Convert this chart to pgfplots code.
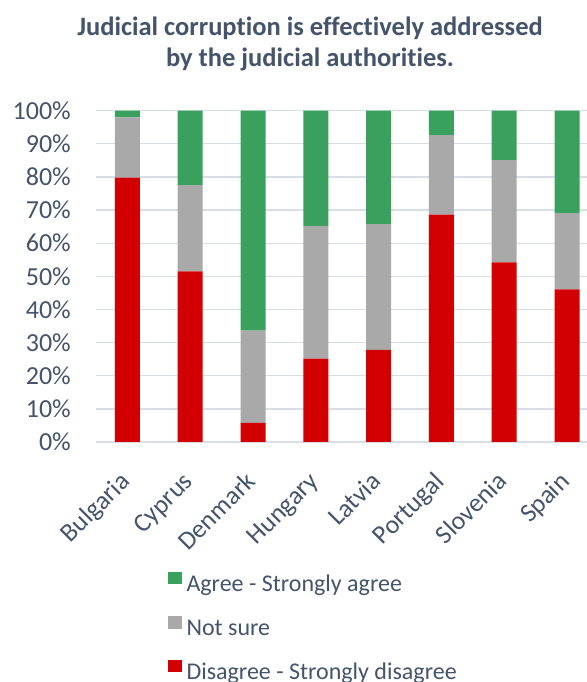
\documentclass[border=0pt]{standalone}
\usepackage{fontspec}
\setmainfont{Carlito}[Ligatures=NoCommon]
\usepackage{pgfplots}
\pgfplotsset{compat=1.18}
\definecolor{txt}{HTML}{44546A}
\definecolor{cgreen}{HTML}{3AA05E}
\definecolor{cgray}{HTML}{A9A9A9}
\definecolor{cred}{HTML}{D20000}
\definecolor{gridc}{HTML}{D9DEE6}
\begin{document}
\begin{tikzpicture}[font=\fontsize{24pt}{29pt}\selectfont, x=1pt, y=1pt]
\useasboundingbox (0,0) rectangle (586,682);
\node[anchor=base, text=txt, font=\fontsize{26.5pt}{31pt}\selectfont\bfseries] at (310,646) {Judicial corruption is effectively addressed};
\node[anchor=base, text=txt, font=\fontsize{26.5pt}{31pt}\selectfont\bfseries] at (310,615) {by the judicial authorities.};
\begin{axis}[
  at={(96pt,240pt)}, anchor=south west,
  scale only axis, width=490.5pt, height=331.3pt,
  ybar stacked, bar width=25pt,
  xmin=-0.5, xmax=7.31, ymin=0, ymax=100,
  xtick={0,...,7},
  xticklabels={Bulgaria,Cyprus,Denmark,Hungary,Latvia,Portugal,Slovenia,Spain},
  ytick={0,10,...,100},
  yticklabels={0\%,10\%,20\%,30\%,40\%,50\%,60\%,70\%,80\%,90\%,100\%},
  major tick length=0pt,
  axis line style={draw=none},
  ymajorgrids, grid style={gridc, line width=1.3pt},
  tick label style={text=txt, font=\fontsize{26pt}{31pt}\selectfont},
  yticklabel style={anchor=east, inner sep=0pt, xshift=-25pt},
  xticklabel style={xshift=4pt, yshift=-41pt, rotate=45, anchor=base east, inner sep=0pt},
  reverse legend,
  legend cell align=left,
  legend style={at={(0.1468,-0.3915)}, anchor=north west, draw=none, fill=none,
    inner sep=0pt, outer sep=0pt, row sep=22.5pt, column sep=5pt,
    font=\fontsize{24pt}{29pt}\selectfont, text=txt,
    nodes={inner sep=0pt}},
  legend image code/.code={\fill[#1] (0pt,0pt) rectangle (13.5pt,12.7pt);},
]
\addplot[fill=cred, draw=none] coordinates {(0,79.8) (1,51.5) (2,5.8) (3,25.2) (4,27.8) (5,68.6) (6,54.2) (7,46.1)};
\addlegendentry{Disagree - Strongly disagree}
\addplot[fill=cgray, draw=none] coordinates {(0,18.2) (1,26.0) (2,27.8) (3,40.0) (4,38.0) (5,24.0) (6,30.9) (7,23.0)};
\addlegendentry{Not sure}
\addplot[fill=cgreen, draw=none] coordinates {(0,2.0) (1,22.5) (2,66.4) (3,34.8) (4,34.2) (5,7.4) (6,14.9) (7,30.9)};
\addlegendentry{Agree - Strongly agree}
\end{axis}
\end{tikzpicture}
\end{document}
